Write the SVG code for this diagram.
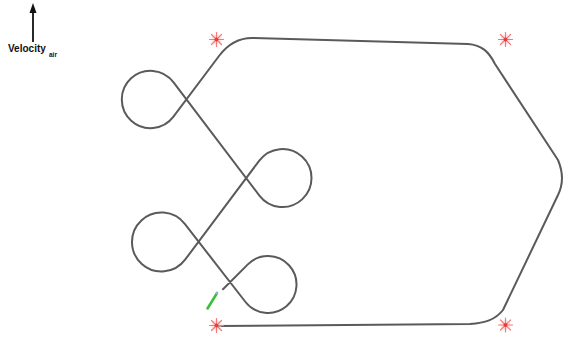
<svg xmlns="http://www.w3.org/2000/svg" width="564" height="338" viewBox="0 0 564 338">
<style>
.track{fill:none;stroke:#5a5a5a;stroke-width:2;stroke-linejoin:round;stroke-linecap:round}
.lbl{font-family:"Liberation Sans",Arial,sans-serif;font-weight:bold;fill:#111}
</style>
<defs>
<g id="starShape">
<circle r="5" fill="#ffd6d6" opacity="0.6"/>
<g stroke="#f47a7a" stroke-width="1.2" stroke-linecap="round">
<line x1="-7" y1="0" x2="7" y2="0"/>
<line x1="0" y1="-7" x2="0" y2="7"/>
<line x1="-5" y1="-5" x2="5" y2="5"/>
<line x1="-5" y1="5" x2="5" y2="-5"/>
</g>
<circle r="2" fill="#ec3b3b"/>
</g>
</defs>
<rect width="564" height="338" fill="#ffffff"/>
<g id="wind">
<line x1="33" y1="42" x2="33" y2="11" stroke="#111" stroke-width="1.8"/>
<polygon points="33,3 29.5,13 36.5,13" fill="#111"/>
<text class="lbl" x="8" y="52" font-size="10">Velocity</text>
<text class="lbl" x="49" y="57" font-size="6.5">air</text>
</g>
<g id="connectors">
<path class="track" d="M 218,326 L 470,324 C 485,323 495,320 503,310 L 558,195 C 563,185 563,172 558,160 L 495,64 C 489,52 482,45 468,44 L 252,38 C 240,38 228,44 219,56 L 173.46,116.72 A 28.7 28.7 0 1 1 173.36,82.15 L 259.4,195.53 A 29 29 0 1 0 259.29,160.62 L 185.11,259.68 A 29.5 29.5 0 1 1 184.79,223.9 L 245.5,301.99 A 28.5 28.5 0 1 0 247.85,264.35 L 223,289.2"/>
</g>
<g id="wp1"><use href="#starShape" x="216.5" y="39.5"/></g>
<g id="wp2"><use href="#starShape" x="505.5" y="39.5"/></g>
<g id="wp3"><use href="#starShape" x="216.5" y="325.5"/></g>
<g id="wp4"><use href="#starShape" x="505.5" y="325"/></g>
<g id="aircraft">
<line x1="216.5" y1="294" x2="207.5" y2="308.5" stroke="#3cbf3c" stroke-width="2.6" stroke-linecap="round"/>
<circle cx="217" cy="293" r="1.4" fill="#9fa8d8"/>
</g>
</svg>
